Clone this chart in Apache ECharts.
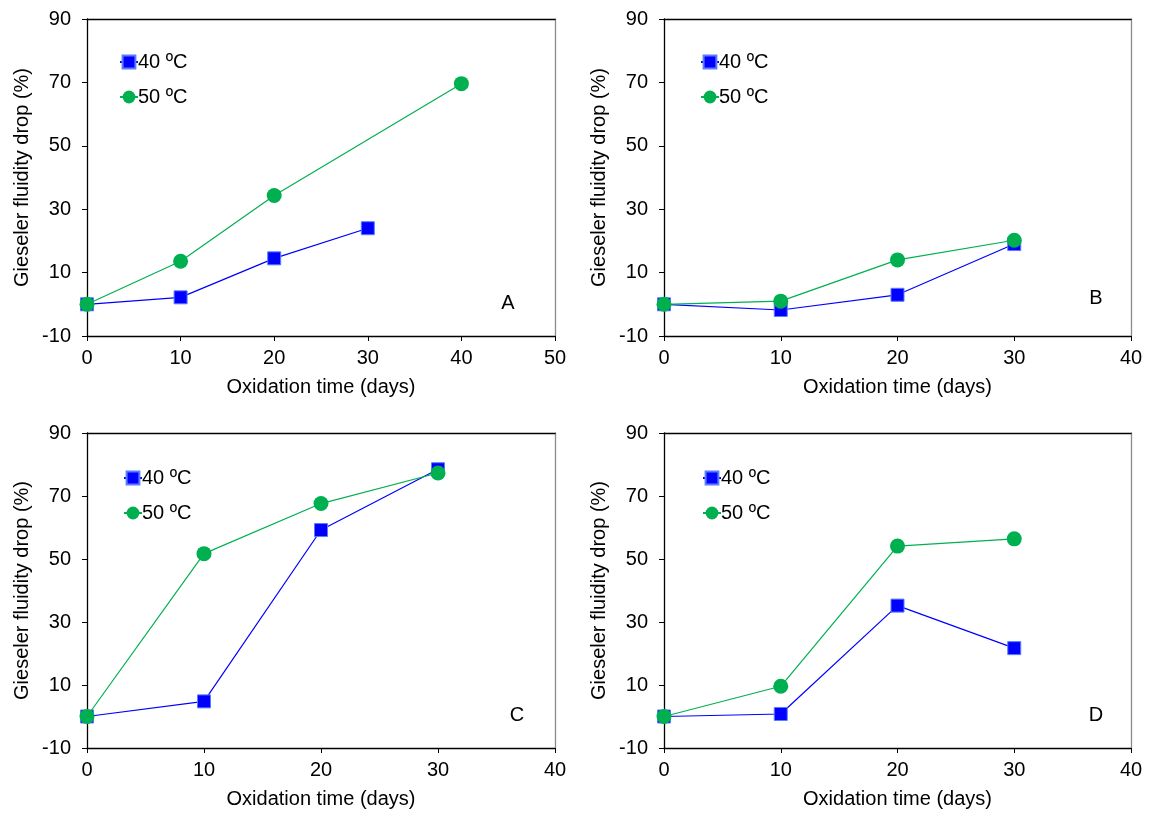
<!DOCTYPE html>
<html>
<head>
<meta charset="utf-8">
<title>Gieseler fluidity drop</title>
<script src="https://cdn.jsdelivr.net/npm/echarts@6/dist/echarts.min.js"></script>
<style>
    html, body { margin: 0; padding: 0; background: #fff; }
    #main { width: 1153px; height: 819px; }
</style>
</head>
<body>
<div id="main"></div>
<script>
// panel values: x = oxidation time (days), y = fluidity drop (%)
var panelNames = ['A', 'B', 'C', 'D'];
var seriesNames = ['40 ºC', '50 ºC'];

var daysA40 = [0, 10, 20, 30];
var dropA40 = [0, 2.2, 14.5, 24];
var daysA50 = [0, 10, 20, 40];
var dropA50 = [0, 13.6, 34.3, 69.6];

var daysB = [0, 10, 20, 30];
var dropB40 = [0, -1.8, 3, 19];
var dropB50 = [0, 1, 14, 20.2];

var daysC = [0, 10, 20, 30];
var dropC40 = [0, 4.8, 59.2, 78.5];
var dropC50 = [0, 51.7, 67.6, 77.3];

var daysD = [0, 10, 20, 30];
var dropD40 = [0, 0.8, 35.2, 21.7];
var dropD50 = [0, 9.6, 54.1, 56.4];

var xMaxes = [50, 40, 40, 40];

var panels = [
    {x40: daysA40, y40: dropA40, x50: daysA50, y50: dropA50},
    {x40: daysB, y40: dropB40, x50: daysB, y50: dropB50},
    {x40: daysC, y40: dropC40, x50: daysC, y50: dropC50},
    {x40: daysD, y40: dropD40, x50: daysD, y50: dropD50}
];

function zip(xs, ys) {
    return xs.map(function (x, i) { return [x, ys[i]]; });
}

var FONT = 'Liberation Sans';
var grids = [
    {left: 87, top: 19, width: 468, height: 317},
    {left: 664, top: 19, width: 467, height: 317},
    {left: 87, top: 433, width: 468, height: 315},
    {left: 664, top: 433, width: 467, height: 315}
];
var legendPos = [
    {left: 114, top: 47},
    {left: 695, top: 47},
    {left: 118, top: 463},
    {left: 697, top: 463}
];
var letterPos = [[508, 303], [1096, 298], [517, 715], [1096, 715]];

var xAxes = [], yAxes = [], series = [], legends = [], graphics = [];

grids.forEach(function (g, i) {
    // bottom axis with labels, plus a plain top line to close the frame
    xAxes.push({
        type: 'value', gridIndex: i, min: 0, max: xMaxes[i], interval: 10,
        position: 'bottom',
        name: 'Oxidation time (days)', nameLocation: 'middle', nameGap: 41,
        nameTextStyle: {fontFamily: FONT, fontSize: 20, color: '#000'},
        axisLine: {onZero: false, lineStyle: {color: '#000', width: 1.3}},
        axisTick: {show: true, length: 5, lineStyle: {color: '#000'}},
        axisLabel: {fontFamily: FONT, fontSize: 20, color: '#000', margin: 12},
        splitLine: {show: false}
    });
    xAxes.push({
        type: 'value', gridIndex: i, min: 0, max: xMaxes[i], position: 'top',
        axisLine: {onZero: false, lineStyle: {color: '#000', width: 1.3}},
        axisTick: {show: false}, axisLabel: {show: false}, splitLine: {show: false}
    });
    yAxes.push({
        type: 'value', gridIndex: i, min: -10, max: 90, interval: 20,
        position: 'left',
        name: 'Gieseler fluidity drop (%)', nameLocation: 'middle', nameGap: 55,
        nameTextStyle: {fontFamily: FONT, fontSize: 20, color: '#000'},
        axisLine: {show: true, onZero: false, lineStyle: {color: '#000', width: 1.3}},
        axisTick: {show: true, length: 5, lineStyle: {color: '#000'}},
        axisLabel: {fontFamily: FONT, fontSize: 20, color: '#000', margin: 16},
        splitLine: {show: false}
    });
    yAxes.push({
        type: 'value', gridIndex: i, min: -10, max: 90, position: 'right',
        axisLine: {show: true, onZero: false, lineStyle: {color: '#8c8c8c', width: 1.3}},
        axisTick: {show: false}, axisLabel: {show: false}, splitLine: {show: false}
    });

    var p = panels[i];
    series.push({
        name: seriesNames[0], type: 'line', xAxisIndex: i * 2, yAxisIndex: i * 2,
        data: zip(p.x40, p.y40),
        symbol: 'rect', symbolSize: 13,
        lineStyle: {color: '#0000ff', width: 1.2},
        itemStyle: {color: '#0000ff', borderColor: '#5a7dff', borderWidth: 1},
        z: 2
    });
    series.push({
        name: seriesNames[1], type: 'line', xAxisIndex: i * 2, yAxisIndex: i * 2,
        data: zip(p.x50, p.y50),
        symbol: 'circle', symbolSize: 15,
        lineStyle: {color: '#00b050', width: 1.2},
        itemStyle: {color: '#00b050'},
        z: 3
    });

    legends.push({
        data: seriesNames, orient: 'vertical',
        left: legendPos[i].left, top: legendPos[i].top,
        itemWidth: 18, itemHeight: 16, itemGap: 15,
        textStyle: {fontFamily: FONT, fontSize: 20, color: '#000', padding: [0, 0, 0, -5]},
        selectedMode: false
    });

    graphics.push({
        type: 'text', x: letterPos[i][0], y: letterPos[i][1],
        style: {text: panelNames[i], fontFamily: FONT, fontSize: 20, fill: '#000',
                align: 'center', verticalAlign: 'middle'}
    });
});

var chart = echarts.init(document.getElementById('main'), null, {renderer: 'canvas'});
chart.setOption({
    backgroundColor: '#fff',
    animation: false,
    grid: grids,
    xAxis: xAxes,
    yAxis: yAxes,
    legend: legends,
    series: series,
    graphic: graphics
});
</script>
</body>
</html>
